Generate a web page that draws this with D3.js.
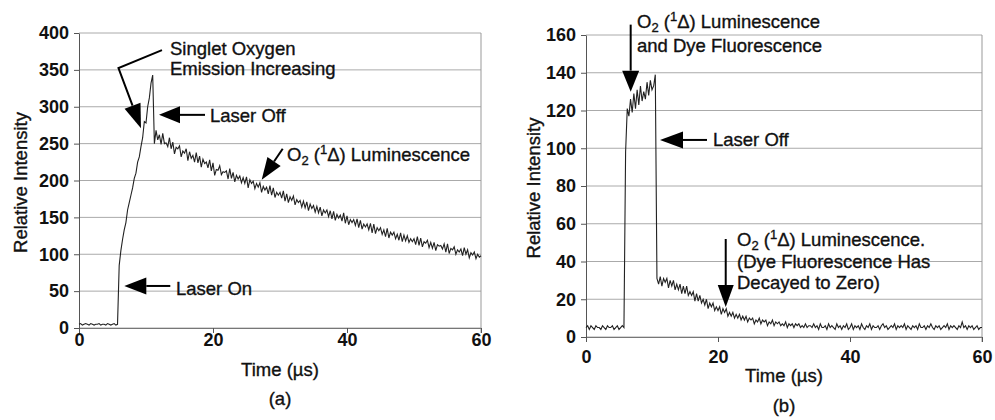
<!DOCTYPE html>
<html>
<head>
<meta charset="utf-8">
<script src="https://d3js.org/d3.v7.min.js"></script>
<style>
  body { margin: 0; background: #fff; }
  text { font-family: "Liberation Sans", Arial, Helvetica, sans-serif; fill: #111; }
  .ann { stroke: #111; stroke-width: 0.35px; }
</style>
</head>
<body>
<svg id="viz" width="995" height="420"></svg>
<script>
// sampling interval of the traces (µs)
var step = 0.25;
var xTicks = [0, 20, 40, 60];
var yTicksA = [0, 50, 100, 150, 200, 250, 300, 350, 400];
var yTicksB = [0, 20, 40, 60, 80, 100, 120, 140, 160];

// (a) relative intensity, one value every 0.25 µs from 0 to 60
var intensityA = [
  5,6,4,5,6,5,4,6,5,4,5,5,6,4,5,5,4,6,5,4,5,6,4,5,
  85,105,120,133,143,160,170,180,190,203,210,225,232,246,258,280,278,300,312,332,343,
  250,268,255,
  262,249,264,250, 251,246,258,243, 252,236,245,243, 247,232,240,237,
  243,227,239,230, 234,225,238,224, 233,218,229,223, 225,217,228,213,
  224,207,215,214, 220,208,212,211, 213,202,216,203, 211,198,207,202,
  206,197,204,196, 205,190,201,196, 199,189,196,191, 197,184,192,187,
  191,182,193,180, 190,177,184,180, 184,176,186,172, 182,170,178,173,
  179,167,174,170, 173,164,172,163, 171,159,168,162, 166,157,165,156,
  164,152,160,156, 160,151,159,148, 158,146,154,149, 153,145,156,142,
  152,140,147,143, 147,139,148,136, 146,134,141,137, 141,133,142,129,
  141,128,136,132, 136,127,133,124, 135,122,130,126, 130,121,127,119,
  129,117,126,118, 125,116,121,117, 121,113,124,112, 122,110,117,115,
  119,109,116,108, 116,105,113,111, 112,107,114,103, 114,101,108,106,
  110,100,106,103, 107,98,109,100, 106,95,102,99, 103,94,100,96,
  98
];

// (b) relative intensity, one value every 0.25 µs from 0 to 60
var intensityB = [
  5,6,4,6,5,4,6,5,5,4,6,5,4,6,5,5,6,4,5,6,4,5,6,5,
  98,
  121,117,126,119,129,121,131,123,133,125,130,126,135,128,136,131,133,139,
  31,
  28,32,27,31, 29,31,26,30, 27,30,25,28, 25,28,23,27, 23,27,22,24,
  22,24,19,23, 19,22,18,20, 17,20,15,18, 16,18,14,16, 14,16,12,15,
  13,15,11,13, 11,13,10,12, 10,12,9,11, 9,11,8,10, 9,10,7,9,
  8,10,7,9, 8,9,6,8, 7,9,6,8, 7,8,6,7, 6,8,5,7,
  6,7,5,7, 6,7,5,6, 5,7,5,6, 6,5,7,5, 6,4,7,5,
  5,6,4,7, 5,6,5,4, 7,5,6,4, 6,5,7,4, 5,7,4,6,
  5,6,4,7, 5,4,6,5, 7,4,6,5, 5,6,4,6, 7,5,6,4,
  5,6,5,7, 4,6,5,6, 5,7,4,6, 5,4,6,5, 6,4,7,5,
  5,6,4,6, 5,7,5,4, 6,5,6,4, 5,6,5,7, 4,6,5,6,
  5,4,6,5, 8,5,6,4, 6,5,6,4, 5,6,4,5,
  5
];

var svg = d3.select("#viz");
svg.append("rect").attr("width", 995).attr("height", 420).attr("fill", "#fff");

function arrow(g, pts, len, w) {
  var tip = pts[pts.length - 1], prev = pts[pts.length - 2];
  var dx = tip[0] - prev[0], dy = tip[1] - prev[1];
  var L = Math.hypot(dx, dy), ux = dx / L, uy = dy / L;
  var base = [tip[0] - ux * len, tip[1] - uy * len];
  var line = pts.slice(0, -1).concat([base]);
  g.append("polyline")
    .attr("points", line.map(function(p) { return p.join(","); }).join(" "))
    .attr("fill", "none").attr("stroke", "#000").attr("stroke-width", 2);
  var tri = [tip, [base[0] - uy * w / 2, base[1] + ux * w / 2], [base[0] + uy * w / 2, base[1] - ux * w / 2]];
  g.append("polygon")
    .attr("points", tri.map(function(p) { return p.join(","); }).join(" "))
    .attr("fill", "#000");
}

function label(g, x, y, txt) {
  return g.append("text").attr("class", "ann").attr("x", x).attr("y", y).attr("font-size", 18.5).text(txt);
}

// "O2 (1Δ) ..." with sub- and superscript
function o2Label(g, x, y, rest) {
  var t = g.append("text").attr("class", "ann").attr("x", x).attr("y", y).attr("font-size", 18.5);
  t.append("tspan").text("O");
  t.append("tspan").attr("font-size", 13).attr("dy", 4).text("2");
  t.append("tspan").attr("dy", -4).text(" (");
  t.append("tspan").attr("font-size", 13).attr("dy", -7).text("1");
  t.append("tspan").attr("dy", 7).text("\u0394) " + rest);
  return t;
}

function panel(cfg) {
  var g = svg.append("g");
  var x = d3.scaleLinear().domain([0, 60]).range([cfg.left, cfg.right]);
  var y = d3.scaleLinear().domain([0, cfg.ymax]).range([cfg.bottom, cfg.top]);

  // horizontal gridlines
  g.selectAll(".grid").data(cfg.yTicks).enter().append("line")
    .attr("x1", cfg.left).attr("x2", cfg.right)
    .attr("y1", function(d) { return y(d); }).attr("y2", function(d) { return y(d); })
    .attr("stroke", "#aaa").attr("stroke-width", 1);
  // right frame
  g.append("line").attr("x1", cfg.right).attr("x2", cfg.right)
    .attr("y1", cfg.top).attr("y2", cfg.bottom + 5)
    .attr("stroke", "#999");

  var ya = g.append("g").attr("transform", "translate(" + cfg.left + ",0)")
    .call(d3.axisLeft(y).tickValues(cfg.yTicks).tickSize(5).tickSizeOuter(0).tickPadding(5));
  ya.select(".domain").attr("stroke", "#555");
  ya.selectAll(".tick line").attr("stroke", "#555");
  ya.selectAll("text").attr("font-size", 18).attr("font-weight", "bold")
    .attr("font-family", "Liberation Sans, Arial, sans-serif").attr("fill", "#111");

  var xa = g.append("g").attr("transform", "translate(0," + cfg.bottom + ")")
    .call(d3.axisBottom(x).tickValues(xTicks).tickSize(5).tickSizeOuter(0).tickPadding(cfg.xPad));
  xa.select(".domain").attr("stroke", "#777");
  xa.selectAll(".tick line").attr("stroke", "#555");
  xa.selectAll("text").attr("font-size", 18).attr("font-weight", "bold")
    .attr("font-family", "Liberation Sans, Arial, sans-serif").attr("fill", "#111");

  // trace
  g.append("path")
    .datum(cfg.values)
    .attr("fill", "none")
    .attr("stroke", "#222")
    .attr("stroke-width", 1.1)
    .attr("d", d3.line()
      .x(function(d, i) { return x(i * step); })
      .y(function(d) { return y(d); }));

  // axis titles
  g.append("text").attr("class", "ann")
    .attr("transform", "translate(" + cfg.yTitleX + "," + ((cfg.top + cfg.bottom) / 2 + 2) + ") rotate(-90)")
    .attr("text-anchor", "middle").attr("font-size", 18.5).text("Relative Intensity");
  g.append("text").attr("class", "ann").attr("x", (cfg.left + cfg.right) / 2).attr("y", cfg.xTitleY)
    .attr("text-anchor", "middle").attr("font-size", 18.5).text("Time (\u00b5s)");
  g.append("text").attr("class", "ann").attr("x", (cfg.left + cfg.right) / 2).attr("y", cfg.capY)
    .attr("text-anchor", "middle").attr("font-size", 18.5).text(cfg.caption);

  return { g: g, x: x, y: y };
}

// ---- panel (a)
var A = panel({ left: 79, right: 481, top: 33, bottom: 328, ymax: 400, yTicks: yTicksA,
  values: intensityA, xPad: 0, yTitleX: 27, xTitleY: 376, capY: 405, caption: "(a)" });

var p = [A.x(9.25), A.y(271)];
arrow(A.g, [[p[0] + 21, p[1] - 78], [p[0] - 22.5, p[1] - 60], p], 24, 17);
label(A.g, 170, 55, "Singlet Oxygen");
label(A.g, 170, 75, "Emission Increasing");

p = [A.x(11.94), A.y(289)];
arrow(A.g, [[p[0] + 46, p[1]], p], 21, 17);
label(A.g, 210, 122, "Laser Off");

p = [A.x(27.27), A.y(201)];
arrow(A.g, [[p[0] + 21, p[1] - 31], p], 22, 16);
o2Label(A.g, 287, 161, "Luminescence");

p = [A.x(6.76), A.y(57)];
arrow(A.g, [[p[0] + 46, p[1]], p], 22, 17);
label(A.g, 176, 295, "Laser On");

// ---- panel (b)
var B = panel({ left: 586, right: 982, top: 35, bottom: 337, ymax: 160, yTicks: yTicksB,
  values: intensityB, xPad: 8, yTitleX: 540, xTitleY: 382, capY: 412, caption: "(b)" });

p = [B.x(6.77), B.y(130)];
arrow(B.g, [[p[0], p[1] - 67], p], 21, 17);
o2Label(B.g, 637, 28, "Luminescence");
label(B.g, 637, 52, "and Dye Fluorescence");

p = [B.x(11.21), B.y(104.4)];
arrow(B.g, [[p[0] + 47, p[1]], p], 23, 17);
label(B.g, 713, 146, "Laser Off");

p = [B.x(21.17), B.y(15.9)];
arrow(B.g, [[p[0], p[1] - 68], p], 22, 16);
o2Label(B.g, 737, 246, "Luminescence.");
label(B.g, 737, 268, "(Dye Fluorescence Has");
label(B.g, 737, 289, "Decayed to Zero)");
</script>
</body>
</html>
